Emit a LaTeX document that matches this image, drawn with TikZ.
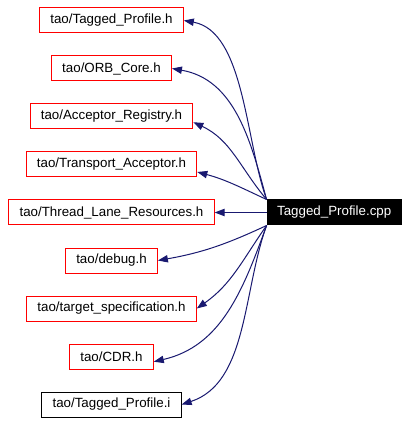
\documentclass[tikz,border=0pt]{standalone}
\usepackage{fontspec}
\setmainfont{Liberation Sans}
\usetikzlibrary{arrows.meta, positioning}
\definecolor{edgeblue}{HTML}{191970}
\tikzstyle{header} = [rectangle, draw=red, line width=0.75pt,
    inner xsep=8pt, inner ysep=2pt, minimum height=18.75pt, font=\fontsize{10}{12}\selectfont]
\tikzstyle{file} = [header, draw=black]
\tikzstyle{source} = [header, draw=black, fill=black, text=white, inner xsep=7.5pt]
\tikzstyle{line} = [draw, edgeblue, line width=0.75pt, -{Triangle[length=7.5pt,width=5.5pt]}]

\begin{document}
\begin{tikzpicture}[x=0.75pt, y=-0.75pt, node distance=36pt]
  \useasboundingbox (0,0) rectangle (410,423);
  % Place nodes
  % Included files
  \node[header] (profileh) at (111.5,20.5) {tao/Tagged\_Profile.h};
  \node[header, below of=profileh] (orbcore)   {tao/ORB\_Core.h};
  \node[header, below of=orbcore] (registry)   {tao/Acceptor\_Registry.h};
  \node[header, below of=registry] (acceptor)  {tao/Transport\_Acceptor.h};
  \node[header, below of=acceptor] (lane)      {tao/Thread\_Lane\_Resources.h};
  \node[header, below of=lane] (debug)         {tao/debug.h};
  \node[header, below of=debug] (target)       {tao/target\_specification.h};
  \node[header, below of=target] (cdr)         {tao/CDR.h};
  \node[file, below of=cdr] (profilei)         {tao/Tagged\_Profile.i};
  % Source file
  \node[source, right of=lane, node distance=167pt] (cpp) {Tagged\_Profile.cpp};

  % Draw edges
  \path [line] (cpp.north west) to[out=110, in=-10, looseness=0.8] (profileh.east);
  \path [line] (cpp.north west) to[out=105, in=-10] (orbcore.east);
  \path [line] (cpp.north west) to[out=130, in=-25] (registry.-4);
  \path [line] (cpp.north west) to[out=155, in=-15] (acceptor.-5);
  \path [line] (cpp) -- (lane);
  \path [line] (cpp.south west) to[out=205, in=10] (debug.east);
  \path [line] (cpp.south west) to[out=235, in=35] (target.east);
  \path [line] (cpp.south west) to[out=250, in=13] (cdr.-7);
  \path [line] (cpp.south west) to[out=250, in=18, looseness=0.9] (profilei.east);
\end{tikzpicture}
\end{document}
